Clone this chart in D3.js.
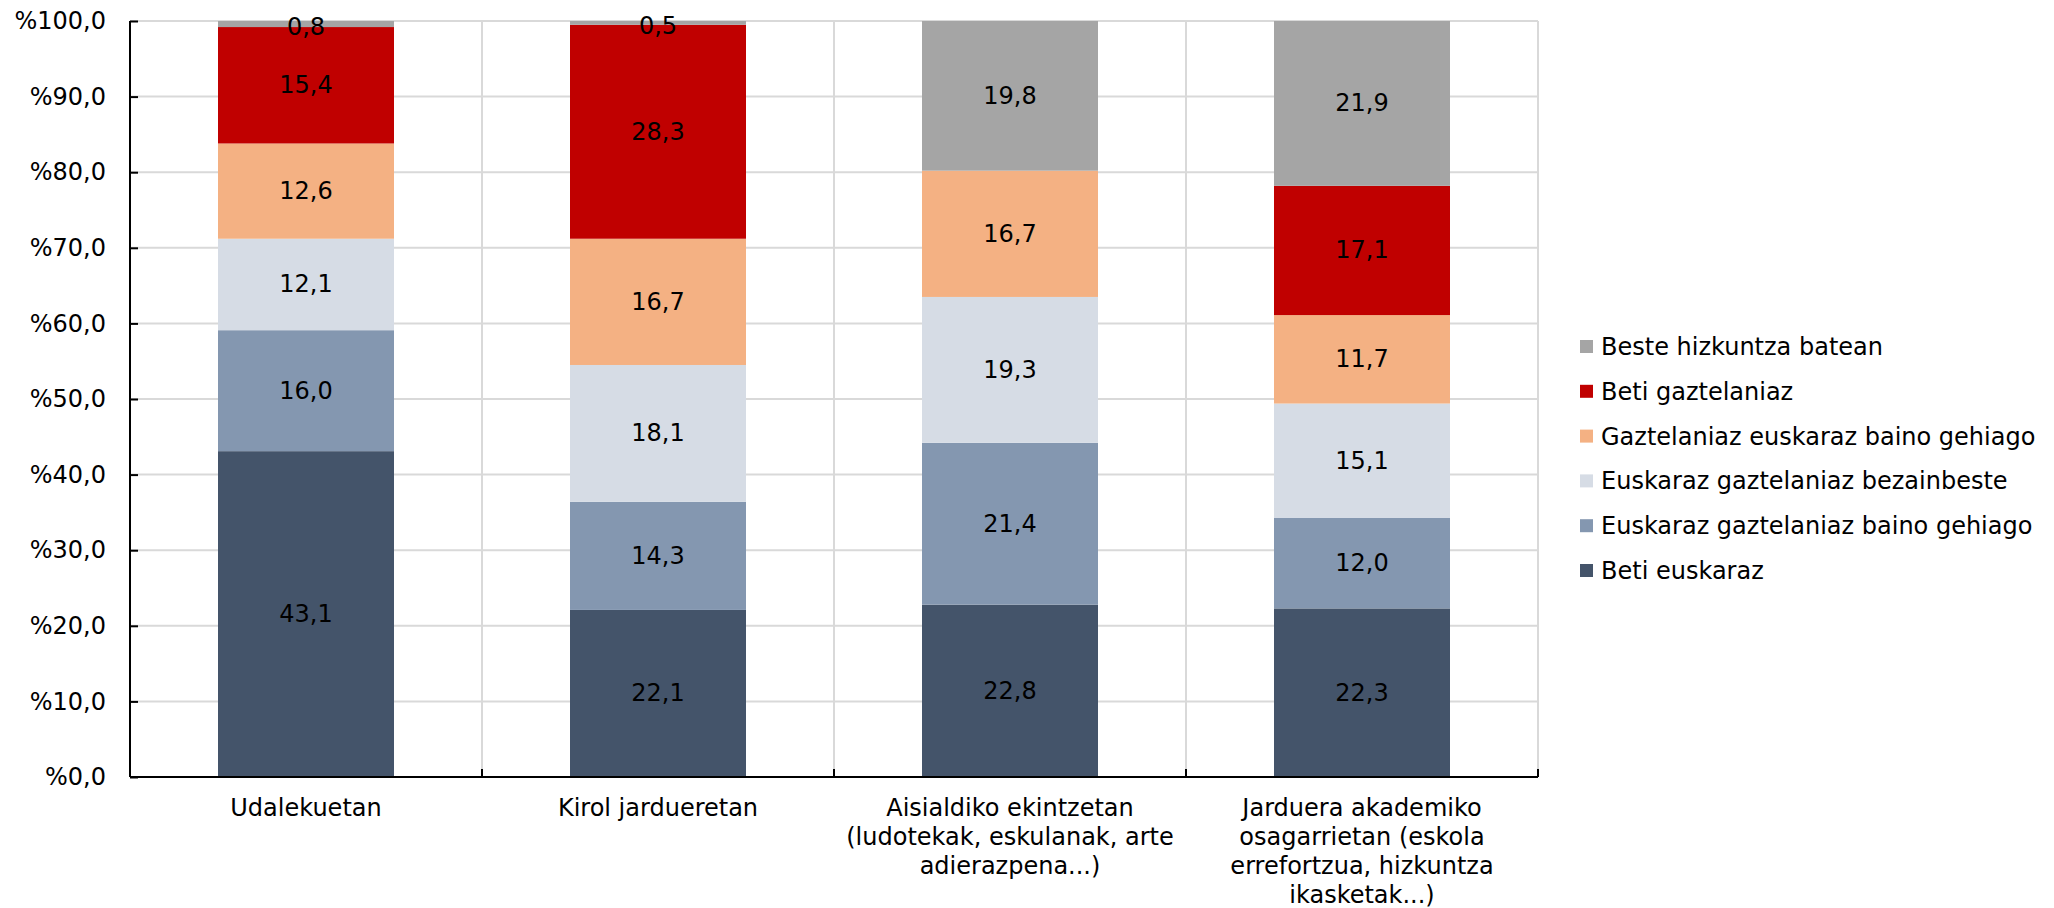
<!DOCTYPE html>
<html><head><meta charset="utf-8">
<script src="https://cdn.jsdelivr.net/npm/d3@7"></script>
<style>body{margin:0;background:#fff;} svg{display:block;} text{font-family:"DejaVu Sans",Verdana,sans-serif;}</style>
</head><body><svg id="c" width="2054" height="908"></svg>
<script>
const categories = ["Udalekuetan","Kirol jardueretan","Aisialdiko ekintzetan (ludotekak, eskulanak, arte adierazpena...)","Jarduera akademiko osagarrietan (eskola errefortzua, hizkuntza ikasketak...)"];
const categoryLines = [["Udalekuetan"],["Kirol jardueretan"],["Aisialdiko ekintzetan","(ludotekak, eskulanak, arte","adierazpena...)"],["Jarduera akademiko","osagarrietan (eskola","errefortzua, hizkuntza","ikasketak...)"]];
const seriesNames = ["Beti euskaraz","Euskaraz gaztelaniaz baino gehiago","Euskaraz gaztelaniaz bezainbeste","Gaztelaniaz euskaraz baino gehiago","Beti gaztelaniaz","Beste hizkuntza batean"];
const betiEuskaraz = [43.1,22.1,22.8,22.3];
const euskBainoGehiago = [16.0,14.3,21.4,12.0];
const bezainbeste = [12.1,18.1,19.3,15.1];
const gaztBainoGehiago = [12.6,16.7,16.7,11.7];
const betiGaztelaniaz = [15.4,28.3,0,17.1];
const besteHizkuntza = [0.8,0.5,19.8,21.9];
const colors = ["#44546A","#8497B0","#D6DCE5","#F4B183","#C00000","#A5A5A5"];
const yTicks = [0,10,20,30,40,50,60,70,80,90,100];

const series = [betiEuskaraz,euskBainoGehiago,bezainbeste,gaztBainoGehiago,betiGaztelaniaz,besteHizkuntza];
const rows = categories.map((c,i)=>{const o={cat:c}; seriesNames.forEach((s,j)=>o[s]=series[j][i]); return o;});
const stack = d3.stack().keys(seriesNames)(rows);

const svg = d3.select("#c");
const L=130,R=1538,T=21,B=777;
const fs=24;
const x = d3.scaleBand().domain(categories).range([L,R]).paddingInner(0.5).paddingOuter(0.25);
const xOuter = d3.scaleBand().domain(categories).range([L,R]);
const y = d3.scaleLinear().domain([0,100]).range([B,T]);

// grid
svg.append("g").selectAll("line").data(yTicks.slice(1)).join("line")
 .attr("x1",L).attr("x2",R).attr("y1",d=>y(d)).attr("y2",d=>y(d))
 .attr("stroke","#d9d9d9").attr("stroke-width",2);
svg.append("g").selectAll("line").data(categories).join("line")
 .attr("x1",d=>xOuter(d)+xOuter.bandwidth()).attr("x2",d=>xOuter(d)+xOuter.bandwidth())
 .attr("y1",T).attr("y2",B).attr("stroke","#d9d9d9").attr("stroke-width",2);

// bars
const g = svg.append("g");
stack.forEach((s,si)=>{
  g.append("g").selectAll("rect").data(s).join("rect")
   .attr("x",d=>x(d.data.cat)).attr("width",x.bandwidth())
   .attr("y",d=>y(Math.min(d[1],100))).attr("height",d=>y(d[0])-y(Math.min(d[1],100)))
   .attr("fill",colors[si]);
});
stack.forEach((s,si)=>{
  g.append("g").selectAll("text").data(s.filter(d=>d[1]-d[0]>0)).join("text")
   .attr("x",d=>x(d.data.cat)+x.bandwidth()/2)
   .attr("y",d=>(y(d[0])+y(Math.min(d[1],100)))/2+(d[1]-d[0]<2?3:0))
   .attr("text-anchor","middle").attr("dominant-baseline","central")
   .attr("font-size",fs).attr("fill","#000")
   .text(d=>d3.format(".1f")(d[1]-d[0]).replace(".",","));
});

// y axis
const yAxis = d3.axisLeft(y).tickValues(yTicks).tickSize(-8).tickPadding(24)
  .tickFormat(d=>"%"+d3.format(".1f")(d).replace(".",","));
const ya = svg.append("g").attr("transform",`translate(${L},0)`).call(yAxis);
ya.select(".domain").attr("stroke","#000").attr("stroke-width",2).attr("d",`M0,${T}V${B}`);
ya.selectAll(".tick line").attr("stroke","#000").attr("stroke-width",2);
ya.selectAll(".tick text").attr("font-size",fs).attr("fill","#000").attr("font-family","DejaVu Sans, Verdana, sans-serif");

// x axis
const xa = svg.append("g").attr("transform",`translate(0,${B})`);
xa.append("line").attr("x1",L).attr("x2",R).attr("y1",0).attr("y2",0).attr("stroke","#000").attr("stroke-width",2);
xa.selectAll(".sep").data(categories).join("line").attr("class","sep")
 .attr("x1",d=>xOuter(d)+xOuter.bandwidth()).attr("x2",d=>xOuter(d)+xOuter.bandwidth())
 .attr("y1",0).attr("y2",-8).attr("stroke","#000").attr("stroke-width",2);
categories.forEach((c,i)=>{
  const t = xa.append("text").attr("text-anchor","middle").attr("font-size",fs).attr("fill","#000");
  categoryLines[i].forEach((ln,k)=>{
    t.append("tspan").attr("x",xOuter(c)+xOuter.bandwidth()/2).attr("y",31+k*29).attr("dominant-baseline","central").text(ln);
  });
});

// legend
const leg = svg.append("g");
const order = d3.range(seriesNames.length).reverse();
order.forEach((si,k)=>{
  const yy = 347 + k*44.8;
  leg.append("rect").attr("x",1580).attr("y",yy-7).attr("width",13).attr("height",13).attr("fill",colors[si]);
  leg.append("text").attr("x",1601).attr("y",yy).attr("dominant-baseline","central").attr("font-size",fs).attr("fill","#000").text(seriesNames[si]);
});
</script></body></html>
